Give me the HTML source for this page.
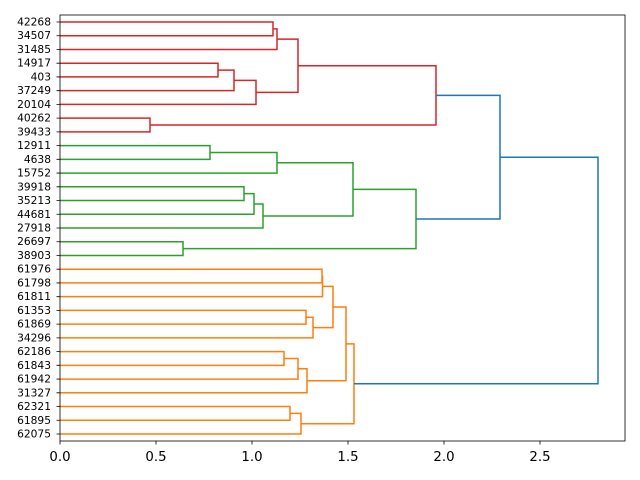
<!DOCTYPE html>
<html><head><meta charset="utf-8"><style>body{margin:0;background:#fff}svg{display:block}</style></head><body>
<svg width="640" height="480" xmlns="http://www.w3.org/2000/svg" font-family="DejaVu Sans, Liberation Sans, sans-serif">
<rect width="640" height="480" fill="#fff"/>
<g fill="none" stroke-width="1.5">
<g stroke="#d62728">
<path d="M60 22H273V35.73H60"/>
<path d="M273 28.87H277V49.47H60"/>
<path d="M60 63.2H218V76.93H60"/>
<path d="M218 70.07H234V90.67H60"/>
<path d="M234 80.37H256V104.4H60"/>
<path d="M277 39.17H298V92.38H256"/>
<path d="M60 118.13H150V131.87H60"/>
<path d="M298 65.78H436V125H150"/>
</g>
<g stroke="#2ca02c">
<path d="M60 145.6H210V159.33H60"/>
<path d="M210 152.47H277V173.07H60"/>
<path d="M60 186.8H244V200.53H60"/>
<path d="M244 193.67H254V214.27H60"/>
<path d="M254 203.97H263V228H60"/>
<path d="M277 162.77H353V215.98H263"/>
<path d="M60 241.73H183V255.47H60"/>
<path d="M353 189.37H416V248.6H183"/>
</g>
<g stroke="#ff7f0e">
<path d="M60 269.2H322V282.93H60"/>
<path d="M322 276.07H322.5V296.67H60"/>
<path d="M60 310.4H306V324.13H60"/>
<path d="M306 317.27H313V337.87H60"/>
<path d="M322.5 286.37H333V327.57H313"/>
<path d="M60 351.6H284V365.33H60"/>
<path d="M284 358.47H298V379.07H60"/>
<path d="M298 368.77H307V392.8H60"/>
<path d="M333 306.97H346V380.78H307"/>
<path d="M60 406.53H290V420.27H60"/>
<path d="M290 413.4H301V434H60"/>
<path d="M346 343.88H354V423.7H301"/>
</g>
<g stroke="#1f77b4">
<path d="M436 95.39H500V218.98H416"/>
<path d="M500 157.19H598V383.79H354"/>
</g>
</g>
<rect x="60" y="15" width="565" height="426" fill="none" stroke="#000" stroke-width="0.8"/>
<g stroke="#000" stroke-width="0.8">
<path d="M60 441v3.5M156 441v3.5M252 441v3.5M348 441v3.5M444 441v3.5M540 441v3.5"/>
<path d="M56.5 22h3.5M56.5 35.73h3.5M56.5 49.47h3.5M56.5 63.2h3.5M56.5 76.93h3.5M56.5 90.67h3.5M56.5 104.4h3.5M56.5 118.13h3.5M56.5 131.87h3.5M56.5 145.6h3.5M56.5 159.33h3.5M56.5 173.07h3.5M56.5 186.8h3.5M56.5 200.53h3.5M56.5 214.27h3.5M56.5 228h3.5M56.5 241.73h3.5M56.5 255.47h3.5M56.5 269.2h3.5M56.5 282.93h3.5M56.5 296.67h3.5M56.5 310.4h3.5M56.5 324.13h3.5M56.5 337.87h3.5M56.5 351.6h3.5M56.5 365.33h3.5M56.5 379.07h3.5M56.5 392.8h3.5M56.5 406.53h3.5M56.5 420.27h3.5M56.5 434h3.5"/>
</g>
<g font-size="13.3" text-anchor="middle" fill="#000">
<text x="60" y="461">0.0</text><text x="156" y="461">0.5</text><text x="252" y="461">1.0</text><text x="348" y="461">1.5</text><text x="444" y="461">2.0</text><text x="540" y="461">2.5</text>
</g>
<g font-size="10.67" text-anchor="end" fill="#000" dominant-baseline="central">
<text x="51" y="22">42268</text><text x="51" y="35.73">34507</text><text x="51" y="49.47">31485</text><text x="51" y="63.2">14917</text><text x="51" y="76.93">403</text><text x="51" y="90.67">37249</text><text x="51" y="104.4">20104</text><text x="51" y="118.13">40262</text><text x="51" y="131.87">39433</text><text x="51" y="145.6">12911</text><text x="51" y="159.33">4638</text><text x="51" y="173.07">15752</text><text x="51" y="186.8">39918</text><text x="51" y="200.53">35213</text><text x="51" y="214.27">44681</text><text x="51" y="228">27918</text><text x="51" y="241.73">26697</text><text x="51" y="255.47">38903</text><text x="51" y="269.2">61976</text><text x="51" y="282.93">61798</text><text x="51" y="296.67">61811</text><text x="51" y="310.4">61353</text><text x="51" y="324.13">61869</text><text x="51" y="337.87">34296</text><text x="51" y="351.6">62186</text><text x="51" y="365.33">61843</text><text x="51" y="379.07">61942</text><text x="51" y="392.8">31327</text><text x="51" y="406.53">62321</text><text x="51" y="420.27">61895</text><text x="51" y="434">62075</text>
</g>
</svg>
</body></html>
